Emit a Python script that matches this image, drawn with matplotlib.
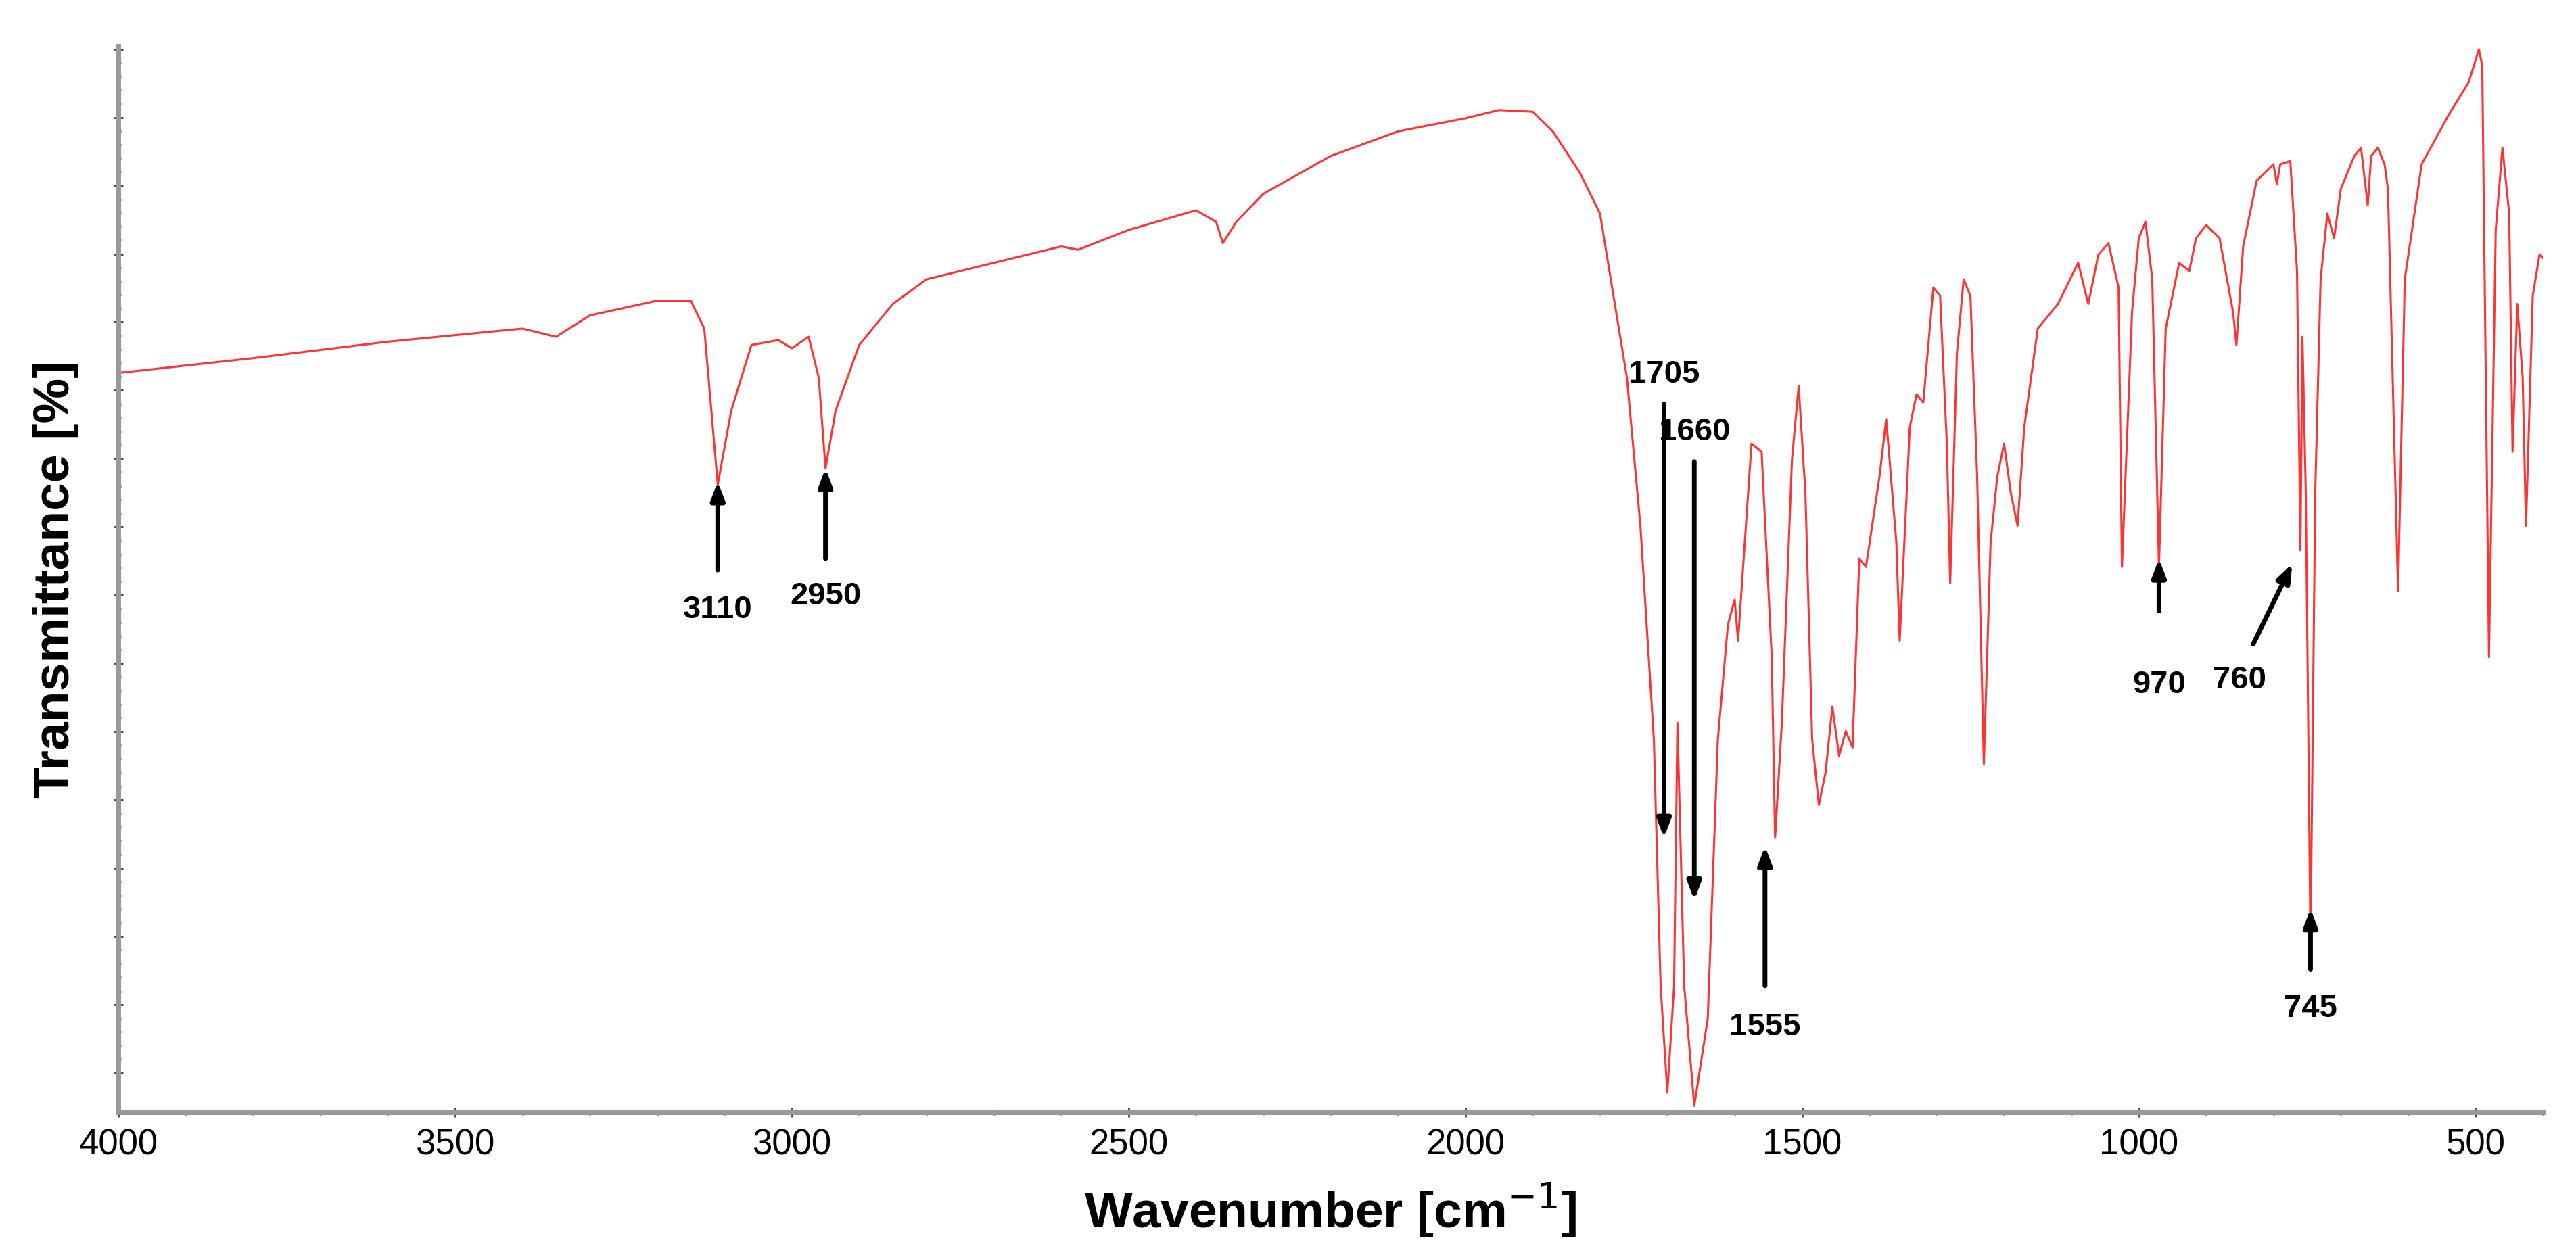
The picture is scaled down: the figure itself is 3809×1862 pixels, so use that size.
import numpy as np
import matplotlib.pyplot as plt
from matplotlib.ticker import MultipleLocator

plt.rcParams['font.family'] = ['Liberation Sans', 'DejaVu Sans']

# spectrum (wavenumber, transmittance in arbitrary %)
wavenumber = [4000, 3800, 3600, 3400, 3350, 3300, 3200, 3150, 3130, 3110, 3090, 3060, 3020, 3000,
              2975, 2960, 2950, 2935, 2900, 2850, 2800, 2700, 2600, 2575, 2500, 2400, 2370, 2360,
              2340, 2300, 2200, 2100, 2000, 1950, 1900, 1870, 1830, 1800, 1780, 1760, 1740, 1720,
              1710, 1700, 1690, 1685, 1675, 1660, 1640, 1625, 1610, 1600, 1595, 1585, 1575, 1560,
              1545, 1540, 1530, 1515, 1505, 1495, 1485, 1475, 1465, 1455, 1445, 1435, 1425, 1415,
              1405, 1385, 1375, 1360, 1355, 1340, 1330, 1320, 1305, 1295, 1285, 1280, 1270, 1260,
              1250, 1240, 1230, 1220, 1210, 1200, 1190, 1180, 1170, 1150, 1120, 1090, 1075, 1060,
              1045, 1030, 1025, 1010, 1000, 990, 980, 970, 960, 940, 925, 915, 900, 880, 860, 855,
              845, 825, 800, 795, 790, 775, 765, 760, 757, 752, 745, 738, 730, 720, 710, 700, 680,
              670, 660, 655, 645, 635, 630, 615, 605, 580, 540, 510, 495, 490, 480, 470, 460, 450,
              445, 438, 430, 425, 415, 405, 400]
pix = [227, 218, 208, 200, 205, 192, 183, 183, 200, 295, 250, 210, 207, 212,
       205, 230, 285, 250, 210, 185, 170, 160, 150, 152, 140, 128, 135, 148,
       135, 118, 95, 80, 72, 67, 68, 80, 105, 130, 180, 230, 320, 450,
       600, 665, 600, 440, 600, 673, 620, 450, 380, 365, 390, 330, 270, 275,
       400, 510, 440, 280, 235, 300, 450, 490, 470, 430, 460, 445, 455, 340,
       345, 290, 255, 330, 390, 260, 240, 245, 175, 180, 270, 355, 215, 170,
       180, 290, 465, 330, 290, 270, 300, 320, 260, 200, 185, 160, 185, 155,
       148, 175, 345, 190, 145, 135, 170, 345, 200, 160, 165, 145, 137, 145, 190, 210,
       150, 110, 100, 112, 100, 98, 165, 335, 205, 300, 575, 300, 170, 130, 145, 115, 95,
       90, 125, 95, 90, 100, 115, 360, 170, 100, 70, 50, 30, 40, 400, 140, 90, 130,
       275, 185, 230, 320, 180, 155, 157]
transmittance = [(677 - p) / 649 * 100 for p in pix]

# peak labels: text, arrow tip (x, T), arrow tail (x, T), label position
peak_labels = ['3110', '2950', '1705', '1660', '1555', '970', '760', '745']
tips = [(3110, 293), (2950, 285), (1705, 510), (1660, 548), (1555, 515), (970, 340), (772, 343), (745, 553)]
tails = [(3110, 347), (2950, 340), (1705, 246), (1660, 281), (1555, 600), (970, 372), (830, 392), (745, 590)]
label_pos = [(3110, 362), (2950, 354), (1705, 237), (1660, 272), (1555, 616), (970, 408), (850, 405), (745, 605)]


def T(p):
    return (677 - p) / 649 * 100


fig = plt.figure(figsize=(38.09, 18.62), dpi=100)
ax = fig.add_axes([175 / 3809, 1 - 1645 / 1862, (3760 - 175) / 3809, (1645 - 68) / 1862])
ax.plot(wavenumber, transmittance, color='#ff3333', lw=2.2)
ax.set_xlim(4000, 400)
ax.set_ylim(0, 100)

for lab, tip, tail, lp in zip(peak_labels, tips, tails, label_pos):
    ax.annotate('', xy=(tip[0], T(tip[1])), xytext=(tail[0], T(tail[1])),
                arrowprops=dict(arrowstyle='-|>,head_length=1.6,head_width=0.6', color='black', lw=5,
                                shrinkA=0, shrinkB=0))
    va = 'bottom' if lab in ('1705', '1660') else 'top'
    ax.text(lp[0], T(lp[1]), lab, ha='center', va=va, fontsize=34, fontweight='bold')

ax.xaxis.set_major_locator(MultipleLocator(500))
ax.xaxis.set_minor_locator(MultipleLocator(100))
ax.set_yticks(np.arange(74.1 - 6.4 * 11, 100, 6.4))
ax.set_yticks(np.arange(74.1 - 6.4 * 11, 100, 1.28), minor=True)
ax.set_yticklabels([])
for s in ['top', 'right']:
    ax.spines[s].set_visible(False)
for s in ['left', 'bottom']:
    ax.spines[s].set_color('#999999')
    ax.spines[s].set_linewidth(5)
ax.tick_params(which='major', direction='inout', length=10, width=2, color='#444444', labelsize=38, pad=12)
ax.tick_params(which='minor', direction='inout', length=6, width=2, color='#444444')

ax.set_xlabel('Wavenumber [cm$^{-1}$]', fontsize=54, fontweight='bold', labelpad=20)
ax.set_ylabel('Transmittance [%]', fontsize=54, fontweight='bold', labelpad=25)

fig.savefig('out.png', dpi=100)
